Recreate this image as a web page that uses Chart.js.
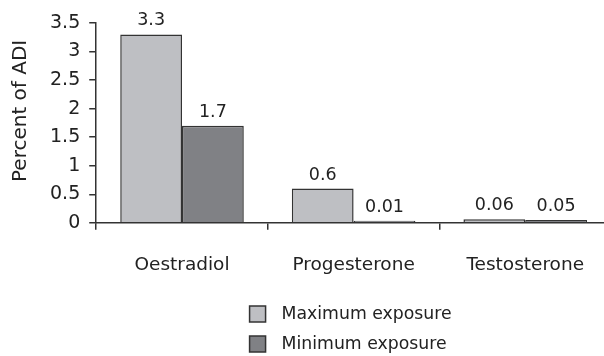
<!DOCTYPE html>
<html>
<head>
<meta charset="utf-8">
<script src="https://cdn.jsdelivr.net/npm/chart.js@4"></script>
<style>
  html, body { margin: 0; padding: 0; background: #fff; overflow: hidden; }
  #wrap { width: 611px; height: 356px; }
</style>
</head>
<body>
<div id="wrap"><canvas id="adi-chart" width="611" height="356"></canvas></div>
<script>
const categories = ["Oestradiol", "Progesterone", "Testosterone"];
const maxExposure = [3.3, 0.6, 0.06];
const minExposure = [1.7, 0.01, 0.05];
const seriesNames = ["Maximum exposure", "Minimum exposure"];
const yTitle = "Percent of ADI";

const FONT = "'DejaVu Sans', sans-serif";
const INK = "#222";
const AXIS = "#333";

// value labels above each bar
const valueLabels = {
    id: "valueLabels",
    afterDatasetsDraw(chart) {
        const ctx = chart.ctx;
        ctx.save();
        ctx.font = "17.5px " + FONT;
        ctx.fillStyle = INK;
        ctx.textAlign = "center";
        ctx.textBaseline = "alphabetic";
        chart.data.datasets.forEach((ds, di) => {
            chart.getDatasetMeta(di).data.forEach((bar, i) => {
                ctx.fillText(String(ds.data[i]), bar.x, bar.y - 9);
            });
        });
        ctx.restore();
    }
};

// stacked legend under the chart + y title
const sideBits = {
    id: "sideBits",
    afterDraw(chart) {
        const ctx = chart.ctx;
        const area = chart.chartArea;
        ctx.save();

        // y axis title
        ctx.font = "20px " + FONT;
        ctx.fillStyle = INK;
        ctx.textAlign = "center";
        ctx.textBaseline = "middle";
        ctx.translate(21, area.top + (area.bottom - area.top) * 0.44);
        ctx.rotate(-Math.PI / 2);
        ctx.fillText(yTitle, 0, 0);
        ctx.setTransform(1, 0, 0, 1, 0, 0);

        // legend
        ctx.font = "17.3px " + FONT;
        const box = 16;
        const gap = 16;
        const widths = chart.data.datasets.map(ds => ctx.measureText(ds.label).width);
        const blockW = box + gap + Math.max(...widths);
        const left = (area.left + area.right) / 2 - blockW / 2 - 3;
        chart.data.datasets.forEach((ds, i) => {
            const cy = chart.height - 42 + i * 30;
            ctx.fillStyle = ds.backgroundColor;
            ctx.fillRect(left, cy - box / 2, box, box);
            ctx.strokeStyle = AXIS;
            ctx.lineWidth = 1.5;
            ctx.strokeRect(left, cy - box / 2, box, box);
            ctx.fillStyle = INK;
            ctx.textAlign = "left";
            ctx.textBaseline = "middle";
            ctx.fillText(ds.label, left + box + gap, cy + 1);
        });
        ctx.restore();
    }
};

new Chart(document.getElementById("adi-chart"), {
    type: "bar",
    data: {
        labels: categories,
        datasets: [
            {
                label: seriesNames[0],
                data: maxExposure,
                backgroundColor: "#bebfc3",
                borderColor: AXIS,
                borderWidth: 1.5
            },
            {
                label: seriesNames[1],
                data: minExposure,
                backgroundColor: "#808185",
                borderColor: AXIS,
                borderWidth: 1.5
            }
        ]
    },
    options: {
        responsive: false,
        animation: false,
        layout: { padding: { left: 41, right: 0, top: 23, bottom: 56 } },
        datasets: {
            bar: { categoryPercentage: 0.72, barPercentage: 1.0, minBarLength: 2 }
        },
        scales: {
            x: {
                grid: {
                    drawOnChartArea: false,
                    color: AXIS,
                    lineWidth: 1.5,
                    tickLength: 7
                },
                border: { color: AXIS, width: 1.5 },
                ticks: {
                    color: INK,
                    padding: 24,
                    font: { family: FONT, size: 18.5 }
                }
            },
            y: {
                min: 0,
                max: 3.5,
                grid: {
                    drawOnChartArea: false,
                    color: AXIS,
                    lineWidth: 1.5,
                    tickLength: 7
                },
                border: { color: AXIS, width: 1.5 },
                ticks: {
                    stepSize: 0.5,
                    color: INK,
                    padding: 9,
                    font: { family: FONT, size: 19 },
                    callback: v => String(v)
                }
            }
        },
        plugins: {
            legend: { display: false },
            tooltip: { enabled: false }
        }
    },
    plugins: [valueLabels, sideBits]
});
</script>
</body>
</html>
